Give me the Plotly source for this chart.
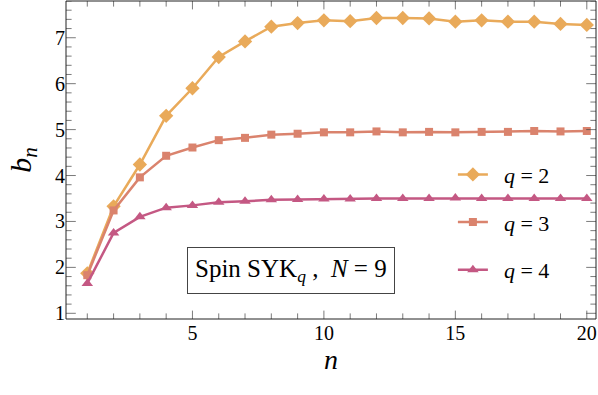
import plotly.graph_objects as go

n = list(range(1, 21))

b_q2 = [1.87, 3.33, 4.24, 5.30, 5.90, 6.58, 6.92, 7.24, 7.32, 7.38,
        7.36, 7.43, 7.43, 7.42, 7.35, 7.38, 7.35, 7.35, 7.30, 7.28]
b_q3 = [1.83, 3.24, 3.96, 4.43, 4.61, 4.77, 4.82, 4.89, 4.91, 4.94,
        4.94, 4.96, 4.94, 4.95, 4.94, 4.95, 4.95, 4.97, 4.96, 4.97]
b_q4 = [1.65, 2.75, 3.10, 3.30, 3.35, 3.42, 3.44, 3.47, 3.48, 3.49,
        3.49, 3.50, 3.50, 3.50, 3.51, 3.50, 3.50, 3.50, 3.50, 3.50]

x_ticks = list(range(1, 21))                 # ticks on bottom/top frame
y_ticks = [k / 5 for k in range(5, 40)]      # ticks on left/right frame

series = [
    ("&nbsp;&nbsp;<i>q</i> = 2", b_q2, "#E9AA5A", "diamond", 11),
    ("&nbsp;&nbsp;<i>q</i> = 3", b_q3, "#DA836D", "square", 8),
    ("&nbsp;&nbsp;<i>q</i> = 4", b_q4, "#C45883", "triangle-up", 10),
]

FONT = "Liberation Serif, Times New Roman, serif"
XRANGE = [0.19, 20.35]
YRANGE = [0.876, 7.8]
TICK_COLOR = "#444"

fig = go.Figure()
for i, (name, vals, color, sym, size) in enumerate(series):
    fig.add_trace(go.Scatter(
        x=n, y=vals, mode="lines+markers", name=name,
        legendgroup=str(i),
        line=dict(color=color, width=2.5),
        marker=dict(symbol=sym, size=size, color=color),
    ))

# frame ticks: line markers centred on the frame, outer half clipped away
xt_size = [12 if v % 5 == 0 else 8 for v in x_ticks]
yt_size = [14 if abs(v - round(v)) < 1e-9 else 8 for v in y_ticks]
for yv in YRANGE:
    fig.add_trace(go.Scatter(
        x=x_ticks, y=[yv] * len(x_ticks), mode="markers", showlegend=False,
        hoverinfo="skip", cliponaxis=True,
        marker=dict(symbol="line-ns", size=xt_size, line=dict(width=1, color=TICK_COLOR)),
    ))
for xv in XRANGE:
    fig.add_trace(go.Scatter(
        x=[xv] * len(y_ticks), y=y_ticks, mode="markers", showlegend=False,
        hoverinfo="skip", cliponaxis=True,
        marker=dict(symbol="line-ew", size=yt_size, line=dict(width=1, color=TICK_COLOR)),
    ))

fig.add_annotation(
    x=8.74, y=1.94, xref="x", yref="y",
    text="Spin SYK<sub><i>q</i></sub> ,  <i>N</i> = 9",
    showarrow=False, font=dict(family=FONT, size=25, color="black"),
    bordercolor="#444", borderwidth=1, borderpad=7, bgcolor="white",
)

# frame box
fig.add_shape(type="rect", xref="paper", yref="paper", x0=0, x1=1, y0=0, y1=1,
              line=dict(color="#222", width=1), layer="above")

fig.update_layout(
    width=598, height=395,
    margin=dict(l=66, r=2, t=1, b=76),
    plot_bgcolor="white", paper_bgcolor="white",
    xaxis=dict(
        showline=False, ticks="", showgrid=False, zeroline=False, automargin=False,
        tickfont=dict(family=FONT, size=20, color="black"),
        range=XRANGE, tick0=5, dtick=5,
        title=dict(text="<i>n</i>", font=dict(family=FONT, size=28, color="black"), standoff=6),
    ),
    yaxis=dict(
        showline=False, ticks="", showgrid=False, zeroline=False, automargin=False,
        tickfont=dict(family=FONT, size=20, color="black"),
        range=YRANGE, tick0=1, dtick=1,
        title=dict(text="<i>b<sub>n</sub></i>", font=dict(family=FONT, size=30, color="black"), standoff=14),
    ),
    legend=dict(
        x=0.73, y=0.52, xanchor="left", yanchor="top",
        font=dict(family=FONT, size=22, color="black"),
        tracegroupgap=16, itemwidth=30, bgcolor="rgba(0,0,0,0)",
    ),
)

fig.write_html("out.html", config={"displayModeBar": False},
               post_script="document.body.style.margin='0';")
